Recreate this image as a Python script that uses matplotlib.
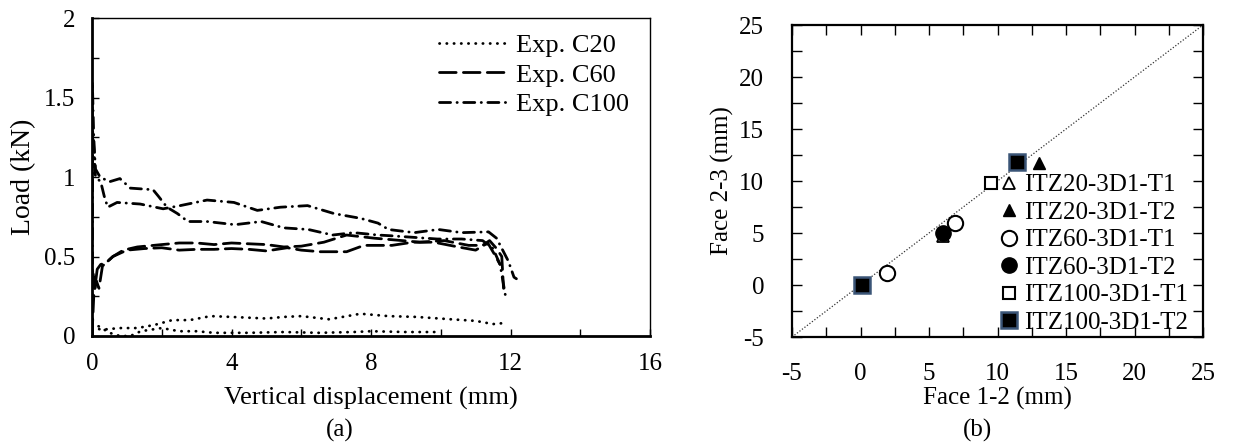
import numpy as np
import matplotlib
matplotlib.use("Agg")
import matplotlib.pyplot as plt

plt.rcParams['font.family'] = ['Liberation Serif', 'DejaVu Serif']
plt.rcParams['font.size'] = 18
plt.rcParams['axes.unicode_minus'] = False

# ---- panel (a): load vs vertical displacement
c20a_x = [0, 0.3, 0.8, 1.3, 1.8, 2.3, 2.8, 3.4, 4.0, 4.5, 5.0, 5.5, 6.0, 6.8, 7.7, 8.5, 9.3, 10.3, 11.0, 11.5, 11.9]
c20a_y = [0.05, 0.04, 0.05, 0.05, 0.07, 0.10, 0.10, 0.125, 0.12, 0.115, 0.11, 0.12, 0.125, 0.105, 0.14, 0.125, 0.12, 0.105, 0.095, 0.075, 0.083]
c20b_x = [0, 0.2, 0.5, 0.8, 1.1, 1.4, 2.0, 2.5, 3.0, 3.5, 4.5, 5.5, 6.5, 7.5, 8.0, 9.0, 9.9]
c20b_y = [0.08, 0.06, 0.02, 0.0, 0.0, 0.03, 0.05, 0.03, 0.03, 0.02, 0.02, 0.025, 0.02, 0.025, 0.03, 0.025, 0.025]

c60a_x = [0, 0.02, 0.08, 0.15, 0.25, 0.4, 0.6, 0.9, 1.3, 2.0, 2.5, 3.0, 3.5, 4.0, 4.5, 5.0, 5.5, 6.0, 6.65, 7.3,
          8.1, 8.9, 9.4, 10.1, 10.8, 11.2, 11.4, 11.6, 11.75, 11.8]
c60a_y = [0, 0.42, 0.30, 0.42, 0.45, 0.46, 0.50, 0.54, 0.56, 0.575, 0.585, 0.585, 0.575, 0.585, 0.58, 0.575, 0.56,
          0.565, 0.59, 0.635, 0.615, 0.60, 0.59, 0.60, 0.57, 0.57, 0.6, 0.55, 0.5, 0.3]
c60b_x = [0, 0.05, 0.12, 0.2, 0.3, 0.6, 1.0, 1.5, 2.0, 2.5, 3.0, 3.5, 4.0, 4.5, 5.0, 5.6, 6.0, 6.55, 7.3, 7.8,
          8.6, 9.2, 9.8, 10.5, 11.0, 11.35, 11.55, 11.7]
c60b_y = [0, 0.25, 0.35, 0.3, 0.44, 0.5, 0.54, 0.55, 0.555, 0.54, 0.545, 0.545, 0.55, 0.545, 0.535, 0.555, 0.54,
          0.53, 0.53, 0.57, 0.57, 0.59, 0.59, 0.56, 0.54, 0.585, 0.51, 0.45]

c100a_x = [0, 0.01, 0.05, 0.1, 0.23, 0.5, 0.8, 1.1, 1.75, 1.9, 2.15, 2.45, 2.75, 3.3, 4.1, 4.85, 5.5, 6.2, 6.9,
           7.5, 8.2, 8.6, 9.25, 9.9, 10.6, 11.2, 11.5, 11.7, 11.85]
c100a_y = [0, 1.6, 1.25, 1.05, 1.0, 0.97, 0.99, 0.93, 0.92, 0.88, 0.81, 0.77, 0.72, 0.72, 0.70, 0.72, 0.68, 0.67,
           0.635, 0.65, 0.635, 0.63, 0.62, 0.61, 0.61, 0.60, 0.55, 0.45, 0.26]
c100b_x = [0, 0.02, 0.1, 0.25, 0.35, 0.45, 0.72, 1.38, 2.04, 2.53, 3.3, 4.07, 4.74, 5.4, 6.18, 6.94, 7.7, 8.2,
           8.5, 9.24, 9.93, 10.6, 11.37, 11.6, 11.94, 12.1, 12.17]
c100b_y = [0, 1.3, 1.0, 0.97, 0.88, 0.81, 0.84, 0.83, 0.80, 0.82, 0.855, 0.84, 0.79, 0.81, 0.82, 0.77, 0.74, 0.71,
           0.67, 0.65, 0.67, 0.65, 0.655, 0.615, 0.47, 0.37, 0.36]

# ---- panel (b): face 2-3 vs face 1-2
series_names = ['ITZ20-3D1-T1', 'ITZ20-3D1-T2', 'ITZ60-3D1-T1', 'ITZ60-3D1-T2', 'ITZ100-3D1-T1', 'ITZ100-3D1-T2']
face12 = [[0.1, 6.0], [13.0], [1.9, 6.9], [6.0], [9.5], [0.1, 11.4]]
face23 = [[0.0, 4.7], [11.7], [1.2, 6.0], [5.0], [9.8], [0.0, 11.8]]

fig = plt.figure(figsize=(12.48, 4.46), dpi=100)
W, H = 1248, 446
ax1 = fig.add_axes([92 / W, (H - 336) / H, 558 / W, 318 / H])
ax2 = fig.add_axes([792 / W, (H - 337) / H, 411 / W, 312 / H])

dot = (0, (0.1, 2.5))
dash = (0, (6.0, 2.6))
dashdot = (0, (4.0, 2.3, 0.1, 2.3))
kw = dict(color='black', lw=2.0, dash_capstyle='round', solid_capstyle='round')

ax1.plot(c20a_x, c20a_y, ls=dot, label='Exp. C20', **kw)
ax1.plot(c20b_x, c20b_y, ls=dot, **kw)
ax1.plot(c60a_x, c60a_y, ls=dash, label='Exp. C60', **kw)
ax1.plot(c60b_x, c60b_y, ls=dash, **kw)
ax1.plot(c100a_x, c100a_y, ls=dashdot, label='Exp. C100', **kw)
ax1.plot(c100b_x, c100b_y, ls=dashdot, **kw)

ax1.set_xlim(0, 16)
ax1.set_ylim(0, 2)
ax1.set_xticks(np.arange(0, 17, 2))
ax1.set_xticklabels([('%g' % v) if v % 4 == 0 else '' for v in np.arange(0, 17, 2)])
ax1.set_yticks(np.arange(0, 2.01, 0.25))
ax1.set_yticklabels([('%g' % v) if abs(v * 2 - round(v * 2)) < 1e-9 else '' for v in np.arange(0, 2.01, 0.25)])
ax1.tick_params(direction='in', length=5, width=1, pad=12)
ax1.tick_params(axis='y', pad=12)
for s in ['left', 'bottom']:
    ax1.spines[s].set_linewidth(2)
for s in ['top', 'right']:
    ax1.spines[s].set_linewidth(1)
ax1.set_xlabel('Vertical displacement (mm)', labelpad=9, fontsize=19)
ax1.set_ylabel('Load (kN)', labelpad=6, fontsize=20)
leg = ax1.legend(loc='upper right', frameon=False, handlelength=2.6, handletextpad=0.3, fontsize=19,
                 labelspacing=0.22, borderaxespad=0.2, bbox_to_anchor=(0.99, 1.0))

# panel (b)
ax2.plot([-5, 25], [-5, 25], color='#333333', lw=0.9, ls=(0, (1, 1.5)), zorder=1)
styles = [
    dict(marker='^', ms=9, mfc='white', mec='black', mew=1.3),
    dict(marker='^', ms=9, mfc='black', mec='black', mew=1.0),
    dict(marker='o', ms=11, mfc='white', mec='black', mew=1.5),
    dict(marker='o', ms=11, mfc='black', mec='black', mew=1.0),
    dict(marker='s', ms=9, mfc='white', mec='black', mew=1.5),
    dict(marker='s', ms=11, mfc='black', mec='#3b5577', mew=1.8),
]
order = [0, 1, 2, 4, 3, 5]
for i in order:
    ax2.plot(face12[i], face23[i], ls='none', label=series_names[i], zorder=3 + i, **styles[i])

ax2.set_xlim(-5, 25)
ax2.set_ylim(-5, 25)
tk = np.arange(-5, 25.1, 2.5)
lbl = [('%g' % v) if v % 5 == 0 else '' for v in tk]
ax2.set_xticks(tk)
ax2.set_xticklabels(lbl)
ax2.set_yticks(tk)
ax2.set_yticklabels(lbl)
ax2.tick_params(direction='in', length=7, width=1, top=True, right=True, pad=19)
ax2.tick_params(axis='y', pad=20)
for s in ax2.spines.values():
    s.set_linewidth(1.6)
ax2.set_xlabel('Face 1-2 (mm)', labelpad=1)
ax2.set_ylabel('Face 2-3 (mm)', labelpad=4)
h, l = ax2.get_legend_handles_labels()
idx = [l.index(n) for n in series_names]
ax2.legend([h[k] for k in idx], [l[k] for k in idx], loc='lower right', frameon=False,
           handlelength=0.7, handletextpad=0.25, labelspacing=0.2, borderaxespad=0.1,
           bbox_to_anchor=(0.995, -0.03))

fig.text(340 / W, 1 - 430 / H, '(a)', ha='center', va='center')
fig.text(978 / W, 1 - 430 / H, '(b)', ha='center', va='center')

fig.savefig('out.png', dpi=100)
